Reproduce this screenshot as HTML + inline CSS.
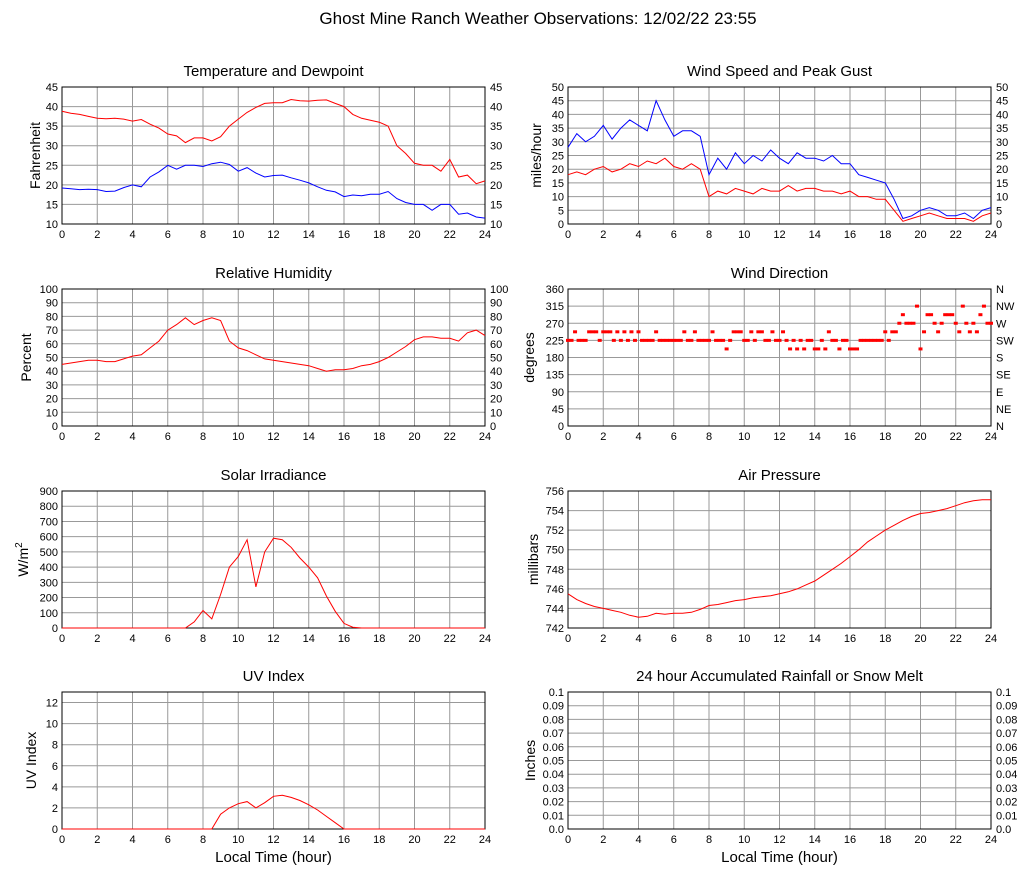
<!DOCTYPE html>
<html><head><meta charset="utf-8"><style>
html,body{margin:0;padding:0;background:#fff}
svg{display:block;font-family:"Liberation Sans",Arial,sans-serif}
</style></head><body>
<svg id="c" width="1027" height="878">
<text x="538" y="24" font-size="17" text-anchor="middle">Ghost Mine Ranch Weather Observations: 12/02/22 23:55</text>
</svg>
<script>
// ---- data arrays (half-hour resolution unless noted) ----
const temperature=[38.8,38.3,38,37.5,37,36.9,37,36.8,36.3,36.7,35.5,34.5,33,32.5,30.8,32,32,31.2,32.3,35,36.8,38.5,39.8,40.8,41,41,41.8,41.5,41.4,41.6,41.7,40.8,40,38,37,36.5,36,35,30,28,25.5,25,25,23.5,26.5,22,22.5,20.3,21];
const dewpoint=[19.2,19,18.8,18.9,18.8,18.3,18.4,19.3,20,19.5,22,23.3,25,24,25,25,24.7,25.4,25.8,25.2,23.5,24.4,23,22,22.4,22.5,21.8,21.2,20.5,19.5,18.6,18.2,17,17.4,17.2,17.6,17.6,18.3,16.5,15.5,15,15,13.5,15,15,12.5,12.8,11.8,11.5];
const windSpeed=[18,19,18,20,21,19,20,22,21,23,22,24,21,20,22,20,10,12,11,13,12,11,13,12,12,14,12,13,13,12,12,11,12,10,10,9,9,5,1,2,3,4,3,2,2,2,1,3,4];
const windGust=[28,33,30,32,36,31,35,38,36,34,45,38,32,34,34,32,18,24,20,26,22,25,23,27,24,22,26,24,24,23,25,22,22,18,17,16,15,9,2,3,5,6,5,3,3,4,2,5,6];
const humidity=[45,46,47,48,48,47,47,49,51,52,57,62,70,74,79,74,77,79,77,62,57,55,52,49,48,47,46,45,44,42,40,41,41,42,44,45,47,50,54,58,63,65,65,64,64,62,68,70,66];
const solar=[0,0,0,0,0,0,0,0,0,0,0,0,0,0,0,40,115,60,220,400,470,580,270,500,590,580,530,460,400,330,210,110,30,5,0,0,0,0,0,0,0,0,0,0,0,0,0,0,0];
const pressure=[745.5,744.9,744.5,744.2,744,743.8,743.6,743.3,743.1,743.2,743.5,743.4,743.5,743.5,743.6,743.9,744.3,744.4,744.6,744.8,744.9,745.1,745.2,745.3,745.5,745.7,746,746.4,746.8,747.4,748,748.6,749.3,750,750.8,751.4,752,752.5,753,753.4,753.7,753.8,754,754.2,754.5,754.8,755,755.1,755.1];
const uvIndex=[0,0,0,0,0,0,0,0,0,0,0,0,0,0,0,0,0,0,1.4,2,2.4,2.6,2,2.5,3.1,3.2,3,2.7,2.3,1.8,1.2,0.6,0,0,0,0,0,0,0,0,0,0,0,0,0,0,0,0,0];
// wind direction sectors (x22.5 deg) every 0.2 hour
const windDirSector=[10,10,11,10,10,10,11,11,11,10,11, 11,11,10,11,10,11,10,11,10,11, 10,10,10,10,11,10,10,10,10,10, 10,10,11,10,10,11,10,10,10,10, 11,10,10,10,9,10,11,11,11,10, 10,11,10,11,11,10,10,11,10,10, 11,10,9,10,9,10,9,10,10,9, 9,10,9,11,10,10,9,10,10,9, 9,9,10,10,10,10,10,10,10,11, 10,11,11,12,13,12,12,12,14,9, 11,13,13,12,11,12,13,13,13,12, 11,14,12,11,12,11,13,14,12,12];
const rainfall=[];
const hourTicks=[0,2,4,6,8,10,12,14,16,18,20,22,24];
const compass=['N','NE','E','SE','S','SW','W','NW','N'];

const svg=document.getElementById('c');
const NS='http://www.w3.org/2000/svg';
function el(tag,attrs,parent){const e=document.createElementNS(NS,tag);for(const k in attrs)e.setAttribute(k,attrs[k]);(parent||svg).appendChild(e);return e;}
function txt(x,y,s,size,anchor,parent){const t=el('text',{x:x,y:y,'font-size':size,'text-anchor':anchor},parent);t.textContent=s;return t;}

function panel(o){
  const g=el('g',{});
  
  
  const L=o.x,R=o.x+423,T=o.y,B=o.y+137;
  const sx=h=>L+h/24*(R-L);
  const sy=v=>B-(v-o.min)/(o.max-o.min)*(B-T);
  o.sx=sx;o.sy=sy;
  const t=txt((L+R)/2,T-11,o.title,15,'middle',g);
  
  
  // grid
  hourTicks.forEach(h=>{el('line',{x1:sx(h),x2:sx(h),y1:T,y2:B,stroke:'#999','stroke-width':1},g);});
  o.ticks.forEach((v,i)=>{
    el('line',{x1:L,x2:R,y1:sy(v),y2:sy(v),stroke:'#999','stroke-width':1},g);
    const lt=txt(L-4,sy(v)+4,o.tickLabels?o.tickLabels[i]:String(v),11,'end',g);
    
    
    if(o.right){const rt=txt(R+5,sy(v)+4,o.right[i],11,'start',g);
      
      }
  });
  el('rect',{x:L,y:T,width:R-L,height:B-T,fill:'none',stroke:'#000','stroke-width':1},g);
  hourTicks.forEach(h=>{const xt=txt(sx(h),B+14,String(h),11,'middle',g);
    
    });
  const yl=el('text',{x:0,y:0,'font-size':14,'text-anchor':'middle',transform:`translate(${o.ylx},${(T+B)/2}) rotate(-90)`},g);
  yl.innerHTML=o.ylabel;
  
  
  if(o.xlabel){const xl=txt((L+R)/2,B+33,'Local Time (hour)',15,'middle',g);
    
    }
  o.g=g;return o;
}
function line(p,data,color,name,step){
  step=step||0.5;
  const d=data.map((v,i)=>(i?'L':'M')+p.sx(i*step).toFixed(1)+' '+p.sy(v).toFixed(1)).join('');
  const e=el('path',{d:d,fill:'none',stroke:color,'stroke-width':1},p.g);
  
  
}
const rng=(a,b,s)=>{const r=[];for(let v=a;v<=b+1e-9;v+=s)r.push(Math.round(v*100)/100);return r;};

const p1=panel({name:'temperature-panel',title:'Temperature and Dewpoint',x:62,y:87,min:10,max:45,ticks:rng(10,45,5),right:rng(10,45,5).map(String),ylabel:'Fahrenheit',ylx:40});
line(p1,temperature,'#f00','temperature-line');line(p1,dewpoint,'#00f','dewpoint-line');
const p2=panel({name:'wind-speed-panel',title:'Wind Speed and Peak Gust',x:568,y:87,min:0,max:50,ticks:rng(0,50,5),right:rng(0,50,5).map(String),ylabel:'miles/hour',ylx:541});
line(p2,windGust,'#00f','wind-gust-line');line(p2,windSpeed,'#f00','wind-speed-line');
const p3=panel({name:'humidity-panel',title:'Relative Humidity',x:62,y:289,min:0,max:100,ticks:rng(0,100,10),right:rng(0,100,10).map(String),ylabel:'Percent',ylx:31});
line(p3,humidity,'#f00','humidity-line');
const p4=panel({name:'wind-direction-panel',title:'Wind Direction',x:568,y:289,min:0,max:360,ticks:rng(0,360,45),right:compass,ylabel:'degrees',ylx:534});
windDirSector.forEach((s,i)=>{const r=el('rect',{x:p4.sx(i*0.2)-2,y:p4.sy(s*22.5)-1.5,width:4,height:3,fill:'#f00'},p4.g);
  
  });
const p5=panel({name:'solar-panel',title:'Solar Irradiance',x:62,y:491,min:0,max:900,ticks:rng(0,900,100),ylabel:'W/m<tspan dy="-6" font-size="10">2</tspan>',ylx:28});
line(p5,solar,'#f00','solar-line');
const p6=panel({name:'pressure-panel',title:'Air Pressure',x:568,y:491,min:742,max:756,ticks:rng(742,756,2),ylabel:'millibars',ylx:538});
line(p6,pressure,'#f00','pressure-line');
const p7=panel({name:'uv-panel',title:'UV Index',x:62,y:692,min:0,max:13,ticks:rng(0,12,2),ylabel:'UV Index',ylx:36,xlabel:true});
line(p7,uvIndex,'#f00','uv-line');
const p8=panel({name:'rainfall-panel',title:'24 hour Accumulated Rainfall or Snow Melt',x:568,y:692,min:0,max:0.1,ticks:rng(0,0.1,0.01),tickLabels:rng(0,0.1,0.01).map(v=>v===0?'0.0':String(v)),right:rng(0,0.1,0.01).map(v=>v===0?'0.0':String(v)),ylabel:'Inches',ylx:535,xlabel:true});
if(rainfall.length)line(p8,rainfall,'#f00','rainfall-line');
</script>
</body></html>
